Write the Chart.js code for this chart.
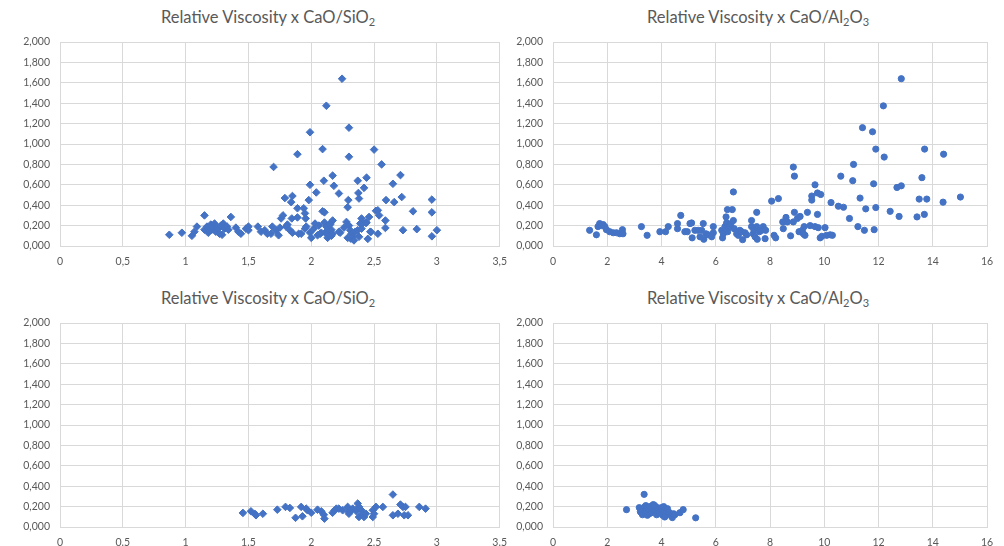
<!DOCTYPE html>
<html>
<head>
<meta charset="utf-8">
<script src="https://cdn.jsdelivr.net/npm/chart.js@4/dist/chart.umd.min.js"></script>
<style>
  html, body { margin: 0; padding: 0; background: #fff; }
  body { width: 1004px; height: 546px; position: relative; overflow: hidden; font-family: Lato, "Noto Sans", sans-serif; }
  canvas { position: absolute; }
  .title { position: absolute; color: #595959; font-size: 16.5px; white-space: nowrap; transform: translate(-50%, -50%); }
  .title sub { font-size: 11px; vertical-align: -3px; line-height: 0; }
</style>
</head>
<body>
<div class="title" style="left:268px;top:17px">Relative Viscosity x CaO/SiO<sub>2</sub></div>
<div class="title" style="left:758px;top:17px">Relative Viscosity x CaO/Al<sub>2</sub>O<sub>3</sub></div>
<div class="title" style="left:268px;top:298px">Relative Viscosity x CaO/SiO<sub>2</sub></div>
<div class="title" style="left:758px;top:298px">Relative Viscosity x CaO/Al<sub>2</sub>O<sub>3</sub></div>

<canvas id="c1" width="516" height="280" style="left:0;top:0"></canvas>
<canvas id="c2" width="504" height="280" style="left:500px;top:0"></canvas>
<canvas id="c3" width="516" height="270" style="left:0;top:276px"></canvas>
<canvas id="c4" width="504" height="270" style="left:500px;top:276px"></canvas>

<script>
// CaO/SiO2 ratio vs relative viscosity, upper chart
const sio2TopX = [0.87,0.97,1.05,1.07,1.09,1.15,1.15,1.17,1.18,1.19,1.20,1.21,1.22,1.23,1.24,1.25,1.26,1.27,1.28,1.29,1.30,1.31,1.33,1.34,1.36,1.40,1.42,1.44,1.48,1.50,1.50,1.575,1.60,1.63,1.65,1.68,1.69,1.70,1.72,1.74,
  1.75,1.76,1.775,1.79,1.80,1.81,1.83,1.84,1.85,1.845,1.85,1.89,1.89,1.89,1.90,1.92,1.94,1.95,1.955,1.95,1.96,1.98,1.99,1.99,1.99,2.00,
  2.02,2.03,2.04,2.05,2.06,2.07,2.08,2.09,2.09,2.10,2.105,2.105,2.11,2.12,2.12,2.13,2.13,2.14,2.145,2.15,2.15,2.16,2.16,2.17,2.17,2.17,2.18,2.22,2.22,2.23,2.245,2.26,2.28,2.29,2.295,2.30,2.30,2.29,2.30,2.31,2.315,2.32,2.33,2.33,2.34,2.35,2.37,2.375,2.38,2.37,2.38,2.39,2.40,2.40,2.41,2.42,2.435,2.44,2.44,2.45,2.46,2.47,2.475,2.50,2.515,2.53,2.53,2.54,
  2.56,2.595,2.59,2.59,2.65,2.66,2.71,2.72,2.73,2.81,2.84,2.96,2.96,2.96,3.00];
const sio2TopY = [0.11,0.13,0.10,0.14,0.19,0.30,0.16,0.19,0.13,0.15,0.21,0.16,0.19,0.22,0.14,0.18,0.17,0.12,0.20,0.11,0.22,0.17,0.19,0.16,0.285,0.18,0.14,0.12,0.17,0.19,0.155,0.19,0.14,0.155,0.12,0.12,0.19,0.775,0.155,0.105,
  0.18,0.27,0.30,0.47,0.19,0.21,0.155,0.43,0.49,0.27,0.13,0.37,0.90,0.28,0.12,0.12,0.37,0.32,0.27,0.17,0.19,0.45,1.115,0.60,0.13,0.08,
  0.17,0.22,0.525,0.105,0.20,0.12,0.13,0.95,0.34,0.64,0.33,0.23,0.13,1.375,0.19,0.12,0.08,0.10,0.155,0.22,0.21,0.16,0.10,0.69,0.25,0.12,0.59,0.515,0.14,0.13,1.64,0.18,0.236,0.38,0.45,1.16,0.875,0.08,0.20,0.155,0.072,0.12,0.12,0.09,0.055,0.14,0.64,0.52,0.465,0.155,0.09,0.22,0.27,0.17,0.22,0.57,0.226,0.67,0.23,0.07,0.285,0.14,0.137,0.945,0.345,0.35,0.12,0.30,
  0.80,0.45,0.25,0.177,0.61,0.43,0.695,0.48,0.155,0.34,0.165,0.455,0.33,0.095,0.155];

// CaO/Al2O3 ratio vs relative viscosity, upper chart
const al2o3TopX = [1.35,1.60,1.66,1.72,1.78,1.85,1.91,1.97,2.09,2.22,2.34,2.46,2.56,2.58,3.26,3.47,3.94,4.15,4.25,4.59,4.59,4.71,4.86,4.95,5.05,5.11,5.13,5.23,5.35,5.42,5.48,5.54,5.56,5.64,5.72,5.85,5.91,5.91,
  6.22,6.25,6.28,6.34,6.38,6.40,6.43,6.44,6.52,6.56,6.61,6.65,6.65,6.68,6.77,6.83,6.89,6.95,6.99,7.08,7.14,7.32,7.32,7.38,7.41,7.45,7.51,7.51,7.53,7.61,7.69,7.75,7.82,7.84,
  8.06,8.15,8.21,8.31,8.47,8.49,8.59,8.64,8.76,8.86,8.86,8.90,8.90,9.01,9.07,9.11,9.19,9.23,9.26,9.29,9.38,9.48,9.54,9.54,9.66,9.66,9.75,9.75,9.78,9.87,9.85,9.91,10.03,10.09,10.22,10.25,10.30,
  10.52,10.61,10.71,10.93,11.05,11.08,11.24,11.32,11.41,11.48,11.53,11.78,11.82,11.84,11.90,11.90,12.18,12.21,12.43,12.68,12.76,12.84,12.84,13.42,13.50,13.60,13.69,13.70,13.78,14.38,14.40,15.02];
const al2o3TopY = [0.154,0.11,0.19,0.22,0.20,0.21,0.19,0.16,0.14,0.13,0.13,0.12,0.16,0.12,0.19,0.105,0.14,0.14,0.19,0.22,0.17,0.30,0.14,0.14,0.22,0.226,0.08,0.154,0.154,0.09,0.154,0.22,0.066,0.12,0.11,0.09,0.19,0.13,
  0.154,0.08,0.12,0.19,0.285,0.226,0.357,0.14,0.19,0.22,0.357,0.25,0.53,0.17,0.12,0.105,0.154,0.14,0.062,0.13,0.11,0.25,0.19,0.12,0.154,0.09,0.33,0.19,0.066,0.14,0.154,0.19,0.072,0.154,
  0.44,0.105,0.08,0.465,0.236,0.17,0.28,0.236,0.10,0.774,0.236,0.685,0.33,0.27,0.14,0.29,0.154,0.12,0.19,0.105,0.33,0.20,0.49,0.45,0.60,0.19,0.31,0.52,0.18,0.505,0.08,0.095,0.18,0.105,0.11,0.426,0.105,
  0.39,0.685,0.38,0.27,0.64,0.80,0.19,0.47,1.16,0.154,0.364,1.12,0.61,0.16,0.95,0.377,1.374,0.872,0.34,0.574,0.29,1.64,0.59,0.285,0.46,0.67,0.31,0.95,0.46,0.43,0.90,0.48];

// CaO/SiO2 ratio vs relative viscosity, lower chart
const sio2BotX = [1.456,1.52,1.55,1.56,1.615,1.73,1.795,1.83,1.875,1.92,1.93,1.96,1.97,2.00,2.05,2.08,2.10,2.105,2.17,2.185,2.20,2.22,2.25,2.29,2.30,2.30,2.32,2.33,2.36,2.37,2.38,2.38,2.40,2.41,2.42,2.435,2.49,2.49,2.50,2.515,2.57,2.65,2.65,2.69,2.71,2.73,2.74,2.75,2.77,2.86,2.91];
const sio2BotY = [0.138,0.154,0.13,0.115,0.13,0.17,0.197,0.187,0.09,0.197,0.105,0.18,0.164,0.14,0.17,0.154,0.12,0.082,0.14,0.164,0.18,0.18,0.164,0.197,0.148,0.13,0.164,0.18,0.154,0.23,0.098,0.197,0.164,0.13,0.098,0.13,0.098,0.164,0.13,0.197,0.197,0.318,0.115,0.13,0.22,0.197,0.115,0.197,0.115,0.197,0.18];

// CaO/Al2O3 ratio vs relative viscosity, lower chart
const al2o3BotX = [2.71,3.18,3.22,3.26,3.30,3.32,3.36,3.38,3.40,3.42,3.45,3.48,3.50,3.53,3.55,3.57,3.60,3.63,3.66,3.68,3.70,3.72,3.75,3.77,3.79,3.82,3.85,3.88,3.91,3.94,3.97,4.00,4.02,4.04,4.06,4.08,4.10,4.12,4.15,4.18,4.22,4.25,4.30,4.37,4.40,4.45,4.49,4.68,4.80,5.26];
const al2o3BotY = [0.17,0.19,0.15,0.14,0.12,0.17,0.32,0.197,0.16,0.21,0.154,0.115,0.19,0.17,0.13,0.20,0.16,0.14,0.21,0.18,0.22,0.19,0.21,0.15,0.154,0.12,0.19,0.17,0.15,0.14,0.18,0.19,0.13,0.115,0.17,0.20,0.14,0.098,0.16,0.154,0.18,0.12,0.14,0.12,0.092,0.13,0.12,0.14,0.17,0.09];

const BLUE = '#4472C4';
const GRID = '#d9d9d9';
const LABEL = '#595959';

const commaNum = v => String(v).replace('.', ',');
const yFmt = v => Number(v).toFixed(3).replace('.', ',');

function pairs(xs, ys) {
    return xs.map((x, i) => ({ x: x, y: ys[i] }));
}

function makeChart(id, xs, ys, opts) {
    const ctx = document.getElementById(id).getContext('2d');
    return new Chart(ctx, {
        type: 'scatter',
        data: {
            datasets: [{
                data: pairs(xs, ys),
                pointStyle: opts.diamond ? 'rectRot' : 'circle',
                pointRadius: opts.diamond ? 3.8 : 3.1,
                borderWidth: 1,
                backgroundColor: BLUE,
                borderColor: BLUE
            }]
        },
        options: {
            responsive: false,
            animation: false,
            layout: { padding: { top: opts.top, right: opts.right, left: 0, bottom: 0 } },
            plugins: { legend: { display: false }, tooltip: { enabled: false } },
            scales: {
                x: {
                    type: 'linear',
                    min: 0,
                    max: opts.xMax,
                    afterFit: s => { s.height = opts.xh; },
                    ticks: {
                        stepSize: opts.xStep,
                        color: LABEL,
                        font: { family: 'Lato', size: 10.5 },
                        padding: 9,
                        maxRotation: 0,
                        callback: opts.xFmt
                    },
                    grid: { color: GRID, drawTicks: false },
                    border: { color: GRID }
                },
                y: {
                    min: 0,
                    max: 2,
                    afterFit: s => { s.width = opts.yw; },
                    ticks: {
                        stepSize: 0.2,
                        color: LABEL,
                        font: { family: 'Lato', size: 10.5 },
                        padding: 10,
                        callback: yFmt
                    },
                    grid: { color: GRID, drawTicks: false },
                    border: { color: GRID }
                }
            }
        }
    });
}

makeChart('c1', sio2TopX, sio2TopY, { diamond: true, top: 42, right: 10, xMax: 3.5, xStep: 0.5, xh: 34, yw: 60, xFmt: commaNum });
makeChart('c2', al2o3TopX, al2o3TopY, { diamond: false, top: 42, right: 17, xMax: 16, xStep: 2, xh: 34, yw: 53, xFmt: v => v });
makeChart('c3', sio2BotX, sio2BotY, { diamond: true, top: 47, right: 10, xMax: 3.5, xStep: 0.5, xh: 19, yw: 60, xFmt: v => String(v) });
makeChart('c4', al2o3BotX, al2o3BotY, { diamond: false, top: 47, right: 17, xMax: 16, xStep: 2, xh: 19, yw: 53, xFmt: v => v });
</script>
</body>
</html>
